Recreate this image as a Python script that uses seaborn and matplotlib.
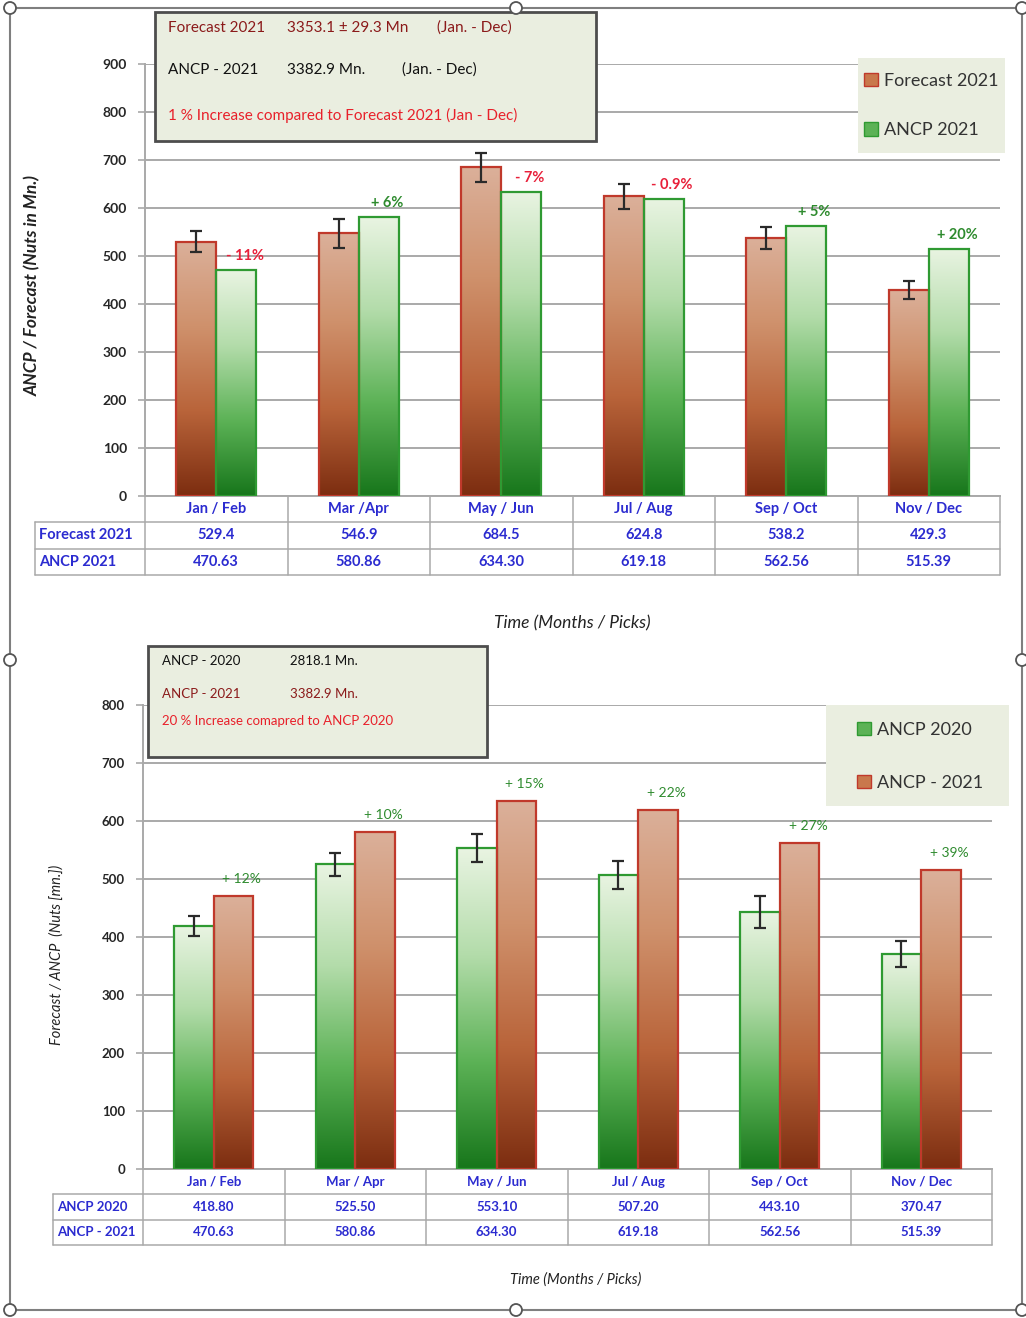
import numpy as np
import pandas as pd
import matplotlib
matplotlib.use("Agg")
import matplotlib.pyplot as plt
import seaborn as sns
from matplotlib.colors import LinearSegmentedColormap
from matplotlib.patches import Patch, Rectangle, Circle

# ---------------- data ----------------
periods_top = ["Jan / Feb", "Mar /Apr", "May / Jun", "Jul / Aug", "Sep / Oct", "Nov / Dec"]
periods_bottom = ["Jan / Feb", "Mar / Apr", "May / Jun", "Jul / Aug", "Sep / Oct", "Nov / Dec"]

forecast_2021 = [529.4, 546.9, 684.5, 624.8, 538.2, 429.3]
forecast_2021_err = [22, 30, 31, 26, 23, 19]
ancp_2021 = [470.63, 580.86, 634.30, 619.18, 562.56, 515.39]
ancp_2020 = [418.80, 525.50, 553.10, 507.20, 443.10, 370.47]
ancp_2020_err = [17, 20, 24, 24, 28, 22]

change_vs_forecast = ["- 11%", "+ 6%", "- 7%", "- 0.9%", "+ 5%", "+ 20%"]
change_vs_2020 = ["+ 12%", "+ 10%", "+ 15%", "+ 22%", "+ 27%", "+ 39%"]

# ---------------- style ----------------
sns.set_theme(style="white")
plt.rcParams["font.family"] = ["Lato", "DejaVu Sans"]
TABLE_FONT = ["Liberation Sans Narrow", "Lato", "DejaVu Sans"]

BROWN = LinearSegmentedColormap.from_list(
    "brown_fill", ["#dbb09a", "#cf916c", "#b9643a", "#7c2d10"])
GREEN = LinearSegmentedColormap.from_list(
    "green_fill", ["#e9f4e2", "#b3dcaa", "#5cb256", "#17761b"])
BROWN_MID, GREEN_MID = "#c9784c", "#5cb256"
BROWN_EDGE, GREEN_EDGE = "#c0392b", "#2f9a32"
POS_COLOR, NEG_COLOR = "#2e8b2e", "#e8203a"
TABLE_BLUE = "#2b2bd0"
BOX_FILL = "#eaeee0"
GRID = "#a9a9a9"

W, H = 1026, 1318
fig = plt.figure(figsize=(W / 100, H / 100), dpi=100)
fig.patch.set_facecolor("white")


def px_axes(x0, y0, x1, y1):
    return fig.add_axes([x0 / W, 1 - y1 / H, (x1 - x0) / W, (y1 - y0) / H])


def bar_panel(ax, cats, first, second, names, err, cmaps, edges, changes,
              ymax, tick_size, note_size, note_weight, note_offset):
    df = pd.DataFrame({
        "period": cats + cats,
        "value": list(first) + list(second),
        "series": [names[0]] * len(cats) + [names[1]] * len(cats),
    })
    sns.barplot(data=df, x="period", y="value", hue="series", order=cats,
                hue_order=names, width=0.56, gap=0, errorbar=None,
                legend=False, ax=ax, palette=[BROWN_MID, GREEN_MID],
                linewidth=1.6, saturation=1)
    # vertical gradient fill for every bar
    for container, cmap, edge in zip(ax.containers, cmaps, edges):
        for bar in container:
            bar.set_edgecolor(edge)
            bar.set_zorder(3)
            x, w, h = bar.get_x(), bar.get_width(), bar.get_height()
            im = ax.imshow(np.linspace(0, 1, 256).reshape(-1, 1),
                           extent=[x, x + w, 0, h], aspect="auto", cmap=cmap,
                           zorder=2.9, interpolation="bicubic")
            im.set_clip_path(bar)
            bar.set_facecolor("none")
    centers = [b.get_x() + b.get_width() / 2 for b in ax.containers[0]]
    ax.errorbar(centers, first, yerr=err, fmt="none", ecolor="#2a2a2a",
                elinewidth=1.6, capsize=4, capthick=1.6, zorder=5)
    for bar, txt in zip(ax.containers[1], changes):
        color = NEG_COLOR if txt.startswith("-") else POS_COLOR
        ax.annotate(txt, (bar.get_x() + bar.get_width() / 2, bar.get_height()),
                    xytext=(6, note_offset), textcoords="offset points",
                    ha="center", va="center", color=color, fontsize=note_size,
                    fontweight=note_weight, zorder=6)
    ax.set_xlim(-0.5, len(cats) - 0.5)
    ax.set_ylim(0, ymax)
    ax.set_yticks(np.arange(0, ymax + 1, 100))
    ax.yaxis.grid(True, color=GRID, lw=1.4)
    ax.xaxis.grid(False)
    ax.set_axisbelow(True)
    for side in ("top", "right"):
        ax.spines[side].set_visible(False)
    for side in ("left", "bottom"):
        ax.spines[side].set_color(GRID)
        ax.spines[side].set_linewidth(1.4)
    ax.set_xticks(range(len(cats)))
    ax.set_xticklabels([])
    ax.tick_params(axis="x", bottom=False)
    ax.tick_params(axis="y", left=True, length=5, width=1.2, color=GRID,
                   pad=8, labelsize=tick_size)
    for lab in ax.get_yticklabels():
        lab.set_fontweight("bold")
    ax.set_xlabel("")
    ax.set_ylabel("")


def data_table(ov, ax, cats, row_labels, rows, label_left, top, row_h, size):
    ax_x0 = ax.get_position().x0 * W
    ax_x1 = ax.get_position().x1 * W
    n = len(cats)
    edges = [ax_x0 + (ax_x1 - ax_x0) * i / n for i in range(n + 1)]
    ys = [top + row_h * k for k in range(4)]
    lc = dict(color=GRID, lw=1.1, zorder=2)
    for y in ys[1:]:
        ov.plot([label_left, edges[-1]], [y, y], **lc)
    for x in edges:
        ov.plot([x, x], [ys[0], ys[-1]], **lc)
    ov.plot([label_left, label_left], [ys[1], ys[-1]], **lc)
    tk = dict(color=TABLE_BLUE, fontsize=size, fontweight="bold",
              family=TABLE_FONT, va="center", zorder=3)
    for i, c in enumerate(cats):
        xc = (edges[i] + edges[i + 1]) / 2
        ov.text(xc, (ys[0] + ys[1]) / 2, c, ha="center", **tk)
        for r, (vals, fmt) in enumerate(rows):
            ov.text(xc, (ys[r + 1] + ys[r + 2]) / 2, fmt.format(vals[i]),
                    ha="center", **tk)
    for r, lab in enumerate(row_labels):
        ov.text(label_left + 4, (ys[r + 1] + ys[r + 2]) / 2, lab, ha="left", **tk)


# ---------------- panels ----------------
ax1 = px_axes(145, 64, 1000, 496)
bar_panel(ax1, periods_top, forecast_2021, ancp_2021,
          ["Forecast 2021", "ANCP 2021"], forecast_2021_err,
          [BROWN, GREEN], [BROWN_EDGE, GREEN_EDGE], change_vs_forecast,
          900, 10, 10.5, "bold", 10)

ax2 = px_axes(143, 705, 992, 1169)
bar_panel(ax2, periods_bottom, ancp_2020, ancp_2021,
          ["ANCP 2020", "ANCP - 2021"], ancp_2020_err,
          [GREEN, BROWN], [GREEN_EDGE, BROWN_EDGE], change_vs_2020,
          800, 9.5, 10, "normal", 12)

# overlay in pixel coordinates for tables, boxes and the frame
ov = fig.add_axes([0, 0, 1, 1])
ov.set_xlim(0, W)
ov.set_ylim(H, 0)
ov.axis("off")

data_table(ov, ax1, periods_top, ["Forecast 2021", "ANCP 2021"],
           [(forecast_2021, "{:.1f}"), (ancp_2021, "{:.2f}")],
           35, 496, 26.3, 10.5)
data_table(ov, ax2, periods_bottom, ["ANCP 2020", "ANCP - 2021"],
           [(ancp_2020, "{:.2f}"), (ancp_2021, "{:.2f}")],
           53, 1169, 25.3, 9.5)

# axis titles
ov.text(33, 285, "ANCP / Forecast (Nuts in Mn.)", rotation=90, ha="center",
        va="center", fontsize=12.5, fontweight="bold", style="italic", color="#222")
ov.text(572, 623, "Time (Months / Picks)", ha="center", va="center",
        fontsize=12.5, style="italic", color="#222")
ov.text(57, 955, "Forecast / ANCP  (Nuts [mn.])", rotation=90, ha="center",
        va="center", fontsize=10.5, style="italic", color="#222")
ov.text(576, 1280, "Time (Months / Picks)", ha="center", va="center",
        fontsize=10.5, style="italic", color="#222")

# summary boxes
DARK_RED, RED = "#8b1a1a", "#e8202a"
ov.add_patch(Rectangle((155, 12), 441, 129, fc=BOX_FILL, ec="#4d4d4d", lw=2, zorder=4))
tb = dict(fontsize=11, va="center", zorder=5)
ov.text(168, 28, "Forecast 2021", color=DARK_RED, **tb)
ov.text(287, 28, "3353.1 ± 29.3 Mn", color=DARK_RED, **tb)
ov.text(437, 28, "(Jan. - Dec)", color=DARK_RED, **tb)
ov.text(168, 70, "ANCP - 2021", color="#111", **tb)
ov.text(287, 70, "3382.9 Mn.", color="#111", **tb)
ov.text(402, 70, "(Jan. - Dec)", color="#111", **tb)
ov.text(168, 115, "1 % Increase compared to Forecast 2021 (Jan - Dec)", color=RED, **tb)

ov.add_patch(Rectangle((148, 646), 339, 111, fc=BOX_FILL, ec="#4d4d4d", lw=2, zorder=4))
tb2 = dict(fontsize=9.5, va="center", zorder=5)
ov.text(162, 661, "ANCP - 2020", color="#111", **tb2)
ov.text(290, 661, "2818.1 Mn.", color="#111", **tb2)
ov.text(162, 694, "ANCP - 2021", color=DARK_RED, **tb2)
ov.text(290, 694, "3382.9 Mn.", color=DARK_RED, **tb2)
ov.text(162, 721, "20 % Increase comapred to ANCP 2020", color=RED, **tb2)

# legends
ov.add_patch(Rectangle((858, 58), 147, 95, fc=BOX_FILL, ec="none", zorder=4))
leg1 = ov.legend(handles=[Patch(fc=BROWN_MID, ec=BROWN_EDGE, label="Forecast 2021"),
                          Patch(fc=GREEN_MID, ec=GREEN_EDGE, label="ANCP 2021")],
                 loc="upper left", bbox_to_anchor=(864, 73), bbox_transform=ov.transData,
                 frameon=False, fontsize=13, handlelength=0.75, handleheight=0.75,
                 handletextpad=0.35, labelspacing=1.85, borderpad=0, borderaxespad=0,
                 labelcolor="#333")
leg1.set_zorder(6)
ov.add_artist(leg1)

ov.add_patch(Rectangle((826, 705), 183, 101, fc=BOX_FILL, ec="none", zorder=4))
leg2 = ov.legend(handles=[Patch(fc=GREEN_MID, ec=GREEN_EDGE, label="ANCP 2020"),
                          Patch(fc=BROWN_MID, ec=BROWN_EDGE, label="ANCP - 2021")],
                 loc="upper left", bbox_to_anchor=(857, 722), bbox_transform=ov.transData,
                 frameon=False, fontsize=13, handlelength=0.75, handleheight=0.75,
                 handletextpad=0.35, labelspacing=2.05, borderpad=0, borderaxespad=0,
                 labelcolor="#333")
leg2.set_zorder(6)

# outer frame with selection handles
fc = "#7f7f7f"
ov.plot([10, 1022, 1022, 10, 10], [8, 8, 1310, 1310, 8], color=fc, lw=1.5, zorder=7)
for hx, hy in [(10, 8), (516, 8), (1022, 8), (10, 660), (1022, 660),
               (10, 1310), (516, 1310), (1022, 1310)]:
    ov.add_patch(Circle((hx, hy), 6, fc="white", ec="#555", lw=1.3, zorder=8))

fig.savefig("out.png", dpi=100, facecolor="white")
